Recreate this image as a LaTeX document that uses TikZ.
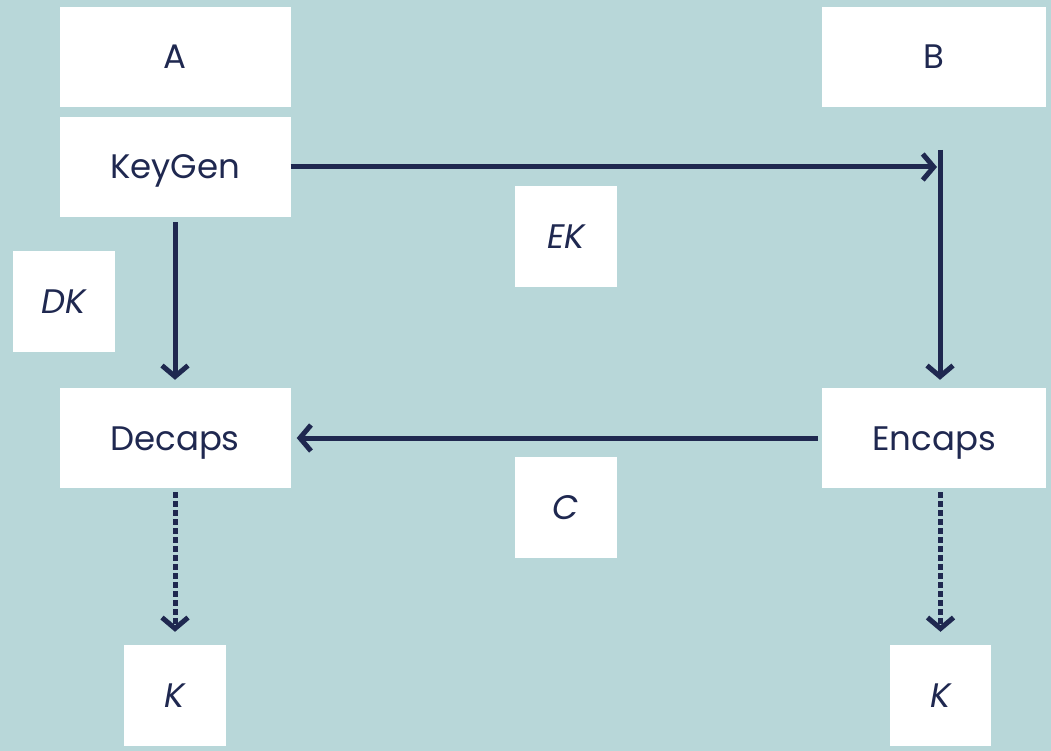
\documentclass[tikz,border=0pt]{standalone}
\usepackage{fontspec}
\setmainfont{Poppins}
\usetikzlibrary{arrows.meta}
\definecolor{bg}{HTML}{B8D7D9}
\definecolor{navy}{HTML}{1F2850}
\tikzset{
  box/.style={fill=white, draw=none, inner sep=0pt, font=\fontsize{34}{38}\selectfont, text=navy, text height=24pt, text depth=0pt},
  wide/.style={box, minimum width=231pt, minimum height=100pt},
  sq/.style={box, minimum width=102pt, minimum height=101pt, font=\fontsize{34}{38}\selectfont\itshape},
  link/.style={draw=navy, line width=5pt, -{Straight Barb[length=11pt,width=26pt]}},
  dots/.style={link, dash pattern=on 6pt off 3pt}
}
\begin{document}
\begin{tikzpicture}[x=1pt,y=-1pt]
\fill[bg] (0,0) rectangle (1051,751);
\useasboundingbox (0,0) rectangle (1051,751);
\node[wide] (A) at (175,57) {A};
\node[wide, minimum width=224pt] (B) at (934,57) {B};
\node[wide] (KG) at (175,167) {KeyGen};
\node[sq] (DK) at (64,301.5) {DK};
\node[sq] (EK) at (566,236.5) {EK};
\node[wide] (Dec) at (175,438) {Decaps};
\node[wide, minimum width=224pt] (Enc) at (934,438) {Encaps};
\node[sq] (C) at (566,507.5) {C};
\node[sq] (K1) at (175,695.5) {K};
\node[sq, minimum width=101pt] (K2) at (940.5,695.5) {K};
\coordinate (bt) at (940,150);
\coordinate (bh) at (937,167);
\draw[link] (KG.east) -- (bh);
\draw[link] (bt) -- ([yshift=8pt]bt |- Enc.north);
\draw[link, shorten <=5pt] (KG.south) -- ([yshift=8pt]Dec.north);
\draw[link, shorten <=4pt] (Enc.west) -- ([xshift=6pt]Dec.east);
\draw[dots, shorten <=4pt] (Dec.south) -- ([yshift=13pt]K1.north);
\draw[dots, shorten <=4pt] (K2.north |- Enc.south) -- ([yshift=13pt]K2.north);
\end{tikzpicture}
\end{document}
